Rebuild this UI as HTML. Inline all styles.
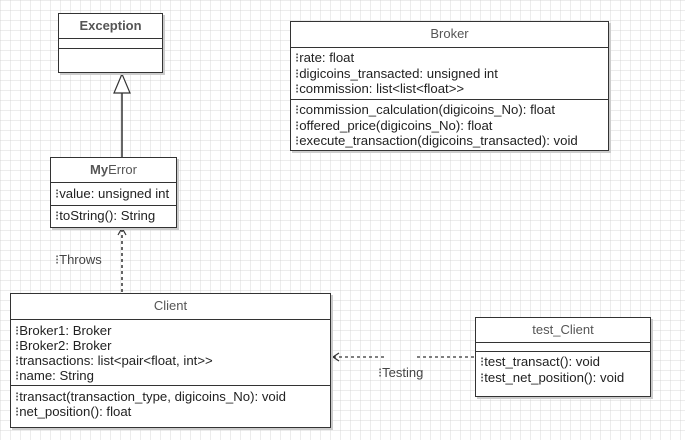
<!DOCTYPE html>
<html><head><style>
body{margin:0;width:685px;height:440px;overflow:hidden;background:#fff;
background-image:linear-gradient(90deg,rgba(200,200,200,.35) 1px,transparent 1px),linear-gradient(rgba(200,200,200,.35) 1px,transparent 1px);background-size:10px 10px;
font-family:"Liberation Sans",sans-serif;font-size:13.2px;color:#222;position:relative}
.b{position:absolute;border:1.5px solid #333;background:#fff;box-shadow:2px 2px 0 #ccc;box-sizing:border-box;white-space:nowrap}
.h{text-align:center;font-size:13px;color:#555;border-bottom:1.5px solid #333;box-sizing:border-box}
.s{border-bottom:1.5px solid #333;box-sizing:border-box;padding-left:4px;line-height:15.5px}
.l{padding-left:4px;line-height:15.5px}
</style></head><body>
<svg width="685" height="440" style="position:absolute;left:0;top:0">
<line x1="122" y1="93" x2="122" y2="157" stroke="#333" stroke-width="1.5"/>
<polygon points="122,74 114,93 130,93" fill="#fff" stroke="#333" stroke-width="1.2"/>
<line x1="122" y1="229" x2="122" y2="293" stroke="#333" stroke-width="1.5" stroke-dasharray="3,3"/>
<polyline points="118,235 122,228 126,235" fill="none" stroke="#333" stroke-width="1.2"/>
<line x1="333" y1="357" x2="385" y2="357" stroke="#333" stroke-width="1.3" stroke-dasharray="3,3"/>
<line x1="417" y1="357" x2="475" y2="357" stroke="#333" stroke-width="1.3" stroke-dasharray="3,3"/>
<polyline points="339,353 333,357 339,361" fill="none" stroke="#333" stroke-width="1.2"/>
<text x="55" y="264" font-family="Liberation Sans" font-size="13" fill="#444">⁝Throws</text>
<text x="378" y="377" font-family="Liberation Sans" font-size="13" fill="#444">⁝Testing</text>
</svg>
<div class="b" style="left:58px;top:13px;width:105px;height:60px">
<div class="h" style="height:25px;line-height:23px;font-weight:bold">Exception</div>
<div class="s" style="height:10px"></div></div>
<div class="b" style="left:50px;top:157px;width:127px;height:71px">
<div class="h" style="height:25px;line-height:23px"><b>My</b>Error</div>
<div class="s" style="height:23px;line-height:22px">⁝value: unsigned int</div>
<div class="l" style="line-height:20px">⁝toString(): String</div></div>
<div class="b" style="left:290px;top:21px;width:319px;height:130px">
<div class="h" style="height:26px;line-height:24px">Broker</div>
<div class="s" style="height:52px;padding-top:2px">⁝rate: float<br>⁝digicoins_transacted: unsigned int<br>⁝commission: list&lt;list&lt;float&gt;&gt;</div>
<div class="l" style="padding-top:2px">⁝commission_calculation(digicoins_No): float<br>⁝offered_price(digicoins_No): float<br>⁝execute_transaction(digicoins_transacted): void</div></div>
<div class="b" style="left:10px;top:293px;width:321px;height:135px">
<div class="h" style="height:26px;line-height:24px">Client</div>
<div class="s" style="height:66px;padding-top:3px;line-height:15px">⁝Broker1: Broker<br>⁝Broker2: Broker<br>⁝transactions: list&lt;pair&lt;float, int&gt;&gt;<br>⁝name: String</div>
<div class="l" style="padding-top:3px;line-height:15px">⁝transact(transaction_type, digicoins_No): void<br>⁝net_position(): float</div></div>
<div class="b" style="left:475px;top:317px;width:176px;height:80px">
<div class="h" style="height:25px;line-height:23px">test_Client</div>
<div class="s" style="height:9px"></div>
<div class="l" style="padding-top:2px;line-height:16px">⁝test_transact(): void<br>⁝test_net_position(): void</div></div>
</body></html>
